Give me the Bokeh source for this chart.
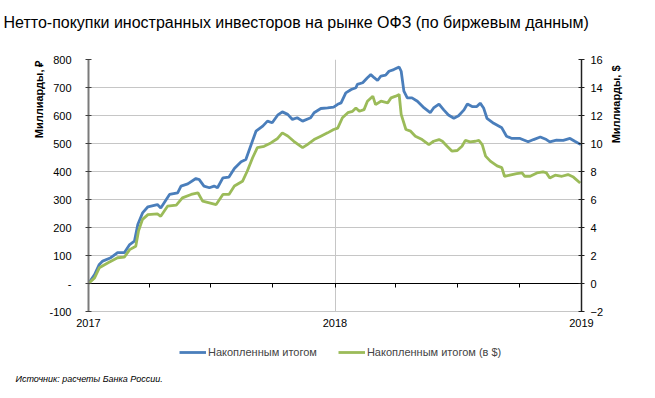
import pandas as pd
from math import pi
from bokeh.plotting import figure
from bokeh.layouts import column, row
from bokeh.models import (Range1d, LinearAxis, FixedTicker, DatetimeTickFormatter, Label,
                          CustomJSTickFormatter, Legend, LegendItem, ColumnDataSource,
                          CustomLabelingPolicy)
from bokeh.embed import file_html
from bokeh.resources import INLINE

TITLE = "Нетто-покупки иностранных инвесторов на рынке ОФЗ (по биржевым данным)"
SOURCE = "Источник: расчеты Банка России."
LEFT_LABEL = "Миллиарды, ₽"
RIGHT_LABEL = "Миллиарды, $"
SERIES_RUB = "Накопленным итогом"
SERIES_USD = "Накопленным итогом (в $)"

x_ticks = ["2017-01-01", "2018-01-01", "2019-01-01"]
quarter_ticks = ["2017-01-01", "2017-04-01", "2017-07-01", "2017-10-01", "2018-01-01",
                 "2018-04-01", "2018-07-01", "2018-10-01", "2019-01-01"]
rub_ticks = [-100, 0, 100, 200, 300, 400, 500, 600, 700, 800]
usd_ticks = [-2, 0, 2, 4, 6, 8, 10, 12, 14, 16]

rub_dates = ["2017-01-01", "2017-01-10", "2017-01-17", "2017-01-22", "2017-02-03", "2017-02-13",
             "2017-02-23", "2017-03-03", "2017-03-10", "2017-03-15", "2017-03-22", "2017-03-30",
             "2017-04-13", "2017-04-18", "2017-05-01", "2017-05-13", "2017-05-18", "2017-05-28",
             "2017-06-09", "2017-06-14", "2017-06-21", "2017-06-29", "2017-07-06", "2017-07-11",
             "2017-07-19", "2017-07-28", "2017-08-05", "2017-08-15", "2017-08-22", "2017-08-29",
             "2017-09-06", "2017-09-16", "2017-09-23", "2017-09-30", "2017-10-08", "2017-10-15",
             "2017-10-23", "2017-10-30", "2017-11-06", "2017-11-14", "2017-11-26", "2017-12-01",
             "2017-12-11", "2017-12-21", "2017-12-30", "2018-01-05", "2018-01-10", "2018-01-17",
             "2018-01-25", "2018-02-01", "2018-02-03", "2018-02-11", "2018-02-18", "2018-02-23",
             "2018-02-28", "2018-03-05", "2018-03-10", "2018-03-17", "2018-03-22", "2018-03-29",
             "2018-04-06", "2018-04-09", "2018-04-13", "2018-04-18", "2018-04-25", "2018-05-03",
             "2018-05-13", "2018-05-22", "2018-05-27", "2018-06-04", "2018-06-11", "2018-06-18",
             "2018-06-26", "2018-07-03", "2018-07-11", "2018-07-16", "2018-07-23", "2018-07-30",
             "2018-08-04", "2018-08-09", "2018-08-14", "2018-08-24", "2018-09-05", "2018-09-12",
             "2018-09-20", "2018-10-02", "2018-10-14", "2018-10-22", "2018-11-01", "2018-11-10",
             "2018-11-15", "2018-11-25", "2018-12-05", "2018-12-15", "2018-12-22", "2018-12-31"]
rub_values = [0, 32, 68, 80, 92, 110,
              110, 139, 151, 211, 252, 274,
              282, 270, 318, 324, 348, 356,
              375, 371, 348, 342, 348, 342,
              377, 380, 411, 435, 443, 490,
              544, 562, 580, 574, 601, 613,
              604, 586, 592, 580, 592, 610,
              625, 627, 630, 640, 645, 681,
              693, 699, 711, 717, 735, 746,
              735, 725, 741, 744, 758, 764,
              773, 758, 687, 663, 663, 651,
              627, 610, 627, 641, 620, 602,
              590, 599, 620, 641, 632, 632,
              644, 627, 590, 572, 556, 526,
              518, 518, 506, 514, 523, 514,
              506, 512, 511, 518, 508, 496]

usd_dates = ["2017-01-01", "2017-01-10", "2017-01-17", "2017-01-30", "2017-02-13", "2017-02-23",
             "2017-03-03", "2017-03-12", "2017-03-16", "2017-03-22", "2017-03-30", "2017-04-13",
             "2017-04-18", "2017-04-28", "2017-05-11", "2017-05-20", "2017-06-02", "2017-06-12",
             "2017-06-19", "2017-06-29", "2017-07-09", "2017-07-19", "2017-07-28", "2017-08-05",
             "2017-08-17", "2017-08-24", "2017-09-01", "2017-09-08", "2017-09-18", "2017-09-28",
             "2017-10-08", "2017-10-15", "2017-10-23", "2017-11-01", "2017-11-14", "2017-11-21",
             "2017-12-01", "2017-12-11", "2017-12-21", "2017-12-30", "2018-01-05", "2018-01-12",
             "2018-01-20", "2018-01-27", "2018-02-01", "2018-02-06", "2018-02-13", "2018-02-18",
             "2018-02-26", "2018-03-02", "2018-03-10", "2018-03-20", "2018-03-25", "2018-04-01",
             "2018-04-06", "2018-04-09", "2018-04-16", "2018-04-23", "2018-04-30", "2018-05-10",
             "2018-05-20", "2018-05-27", "2018-06-04", "2018-06-09", "2018-06-16", "2018-06-23",
             "2018-07-01", "2018-07-08", "2018-07-13", "2018-07-20", "2018-07-28", "2018-08-02",
             "2018-08-07", "2018-08-12", "2018-08-19", "2018-08-29", "2018-09-05", "2018-09-09",
             "2018-09-17", "2018-09-27", "2018-10-05", "2018-10-09", "2018-10-17", "2018-10-27",
             "2018-11-05", "2018-11-10", "2018-11-15", "2018-11-23", "2018-12-03", "2018-12-12",
             "2018-12-20", "2018-12-30"]
usd_values = [0.00, 0.40, 1.12, 1.48, 1.84, 1.88,
              2.42, 2.66, 3.74, 4.58, 4.92, 4.98,
              4.80, 5.52, 5.60, 6.12, 6.36, 6.48,
              5.88, 5.76, 5.64, 6.36, 6.36, 6.96,
              7.30, 8.02, 8.98, 9.70, 9.80, 10.04,
              10.36, 10.76, 10.54, 10.16, 9.70, 9.92,
              10.28, 10.52, 10.76, 11.00, 11.10, 11.84,
              12.20, 12.30, 12.54, 12.30, 12.42, 13.02,
              13.38, 12.78, 13.02, 12.90, 13.26, 13.38,
              13.50, 12.08, 11.00, 10.88, 10.52, 10.28,
              9.92, 10.16, 10.28, 10.16, 9.80, 9.46,
              9.50, 9.80, 10.22, 10.12, 10.16, 10.22,
              9.92, 9.10, 8.74, 8.40, 8.28, 7.66,
              7.74, 7.84, 7.90, 7.66, 7.66, 7.90,
              7.98, 7.90, 7.54, 7.74, 7.66, 7.78,
              7.60, 7.18]

BLUE = "#4a7ebb"
GREEN = "#9bbb59"
FONT = "Liberation Sans"
W = 655
H_MAIN = 294
W_LEFT = 46
W_RIGHT = 49


def ms(dates):
    return [pd.Timestamp(d).timestamp() * 1000 for d in dates]


def no_align(f):
    try:
        f.frame_align = False
    except Exception:
        pass


def blank_fig(width, height):
    f = figure(width=width, height=height, output_backend="svg", toolbar_location=None,
               x_range=Range1d(0, 1), y_range=Range1d(0, 1),
               x_axis_location=None, y_axis_location=None,
               min_border_left=0, min_border_right=0, min_border_top=0, min_border_bottom=0)
    f.outline_line_color = None
    f.grid.visible = False
    f.background_fill_color = "white"
    f.border_fill_color = "white"
    no_align(f)
    return f


rub_src = ColumnDataSource(dict(x=pd.to_datetime(rub_dates), y=rub_values))
usd_src = ColumnDataSource(dict(x=pd.to_datetime(usd_dates), y=usd_values))

# ---- title strip ----
pt = blank_fig(W, 40)
pt.add_layout(Label(x=3, y=18, x_units="screen", y_units="screen", text=TITLE,
                    text_font=FONT, text_font_size="16px", text_color="black",
                    text_baseline="middle", text_align="left"))

# ---- axis-title strips ----
pleft = blank_fig(W_LEFT, H_MAIN)
pleft.add_layout(Label(x=38, y=H_MAIN - 20, x_units="screen", y_units="screen",
                       text=LEFT_LABEL, angle=pi / 2, text_font=FONT, text_font_size="11px",
                       text_font_style="bold", text_color="black",
                       text_baseline="middle", text_align="right"))
pright = blank_fig(W_RIGHT, H_MAIN)
pright.add_layout(Label(x=9, y=H_MAIN - 25, x_units="screen", y_units="screen",
                        text=RIGHT_LABEL, angle=pi / 2, text_font=FONT, text_font_size="11px",
                        text_font_style="bold", text_color="black",
                        text_baseline="middle", text_align="right"))

# ---- main chart ----
p = figure(width=W - W_LEFT - W_RIGHT, height=H_MAIN, x_axis_type="datetime",
           output_backend="svg", toolbar_location=None,
           x_range=Range1d(ms(x_ticks)[0], ms(x_ticks)[-1]),
           y_range=Range1d(rub_ticks[0], rub_ticks[-1]),
           min_border_left=88 - W_LEFT, min_border_right=72 - W_RIGHT,
           min_border_top=19, min_border_bottom=23)
no_align(p)
p.outline_line_color = None
p.background_fill_color = "white"
p.border_fill_color = "white"
p.extra_y_ranges = {"usd": Range1d(usd_ticks[0], usd_ticks[-1])}

p.ygrid.ticker = FixedTicker(ticks=rub_ticks)
p.ygrid.grid_line_color = "#c6c6c6"
p.ygrid.grid_line_width = 1
p.xgrid.ticker = FixedTicker(ticks=ms(x_ticks))
p.xgrid.grid_line_color = "#c6c6c6"

xa = p.xaxis[0]
xa.ticker = FixedTicker(ticks=ms(x_ticks))
xa.formatter = DatetimeTickFormatter(years="%Y", months="%Y", days="%Y", hours="%Y",
                                     minutes="%Y", seconds="%Y", milliseconds="%Y")
xa.major_tick_in = 0
xa.major_tick_out = 0
xa.minor_tick_in = 0
xa.minor_tick_out = 0
xa.axis_line_color = "#c6c6c6"
xa.major_label_standoff = 7
xa.major_label_text_font = FONT
xa.major_label_text_font_size = "11px"
xa.major_label_text_color = "black"

# zero line with quarter ticks (no labels)
za = LinearAxis(fixed_location=0, ticker=FixedTicker(ticks=ms(quarter_ticks)))
za.major_label_text_font_size = "0px"
za.major_label_policy = CustomLabelingPolicy(code="return []")
za.major_tick_in = 4
za.major_tick_out = 0
za.minor_tick_in = 0
za.minor_tick_out = 0
za.axis_line_color = "black"
za.major_tick_line_color = "black"
za.axis_line_width = 1.2
p.add_layout(za, "above")

ya = p.yaxis[0]
ya.ticker = FixedTicker(ticks=rub_ticks)
ya.formatter = CustomJSTickFormatter(code="return tick == 0 ? '-' : tick.toString();")
ya.minor_tick_in = 0
ya.minor_tick_out = 0
ya.major_tick_in = 3
ya.major_tick_out = 3
ya.axis_line_color = "#7a7a7a"
ya.axis_line_width = 2
ya.major_tick_line_color = "#404040"
ya.major_label_standoff = 14
ya.major_label_text_font = FONT
ya.major_label_text_font_size = "11px"
ya.major_label_text_color = "black"

ra = LinearAxis(y_range_name="usd", ticker=FixedTicker(ticks=usd_ticks))
ra.minor_tick_in = 0
ra.minor_tick_out = 0
ra.major_tick_in = 3
ra.major_tick_out = 3
ra.axis_line_color = "#202020"
ra.axis_line_width = 1.5
ra.major_tick_line_color = "#202020"
ra.major_label_standoff = 6
ra.major_label_text_font = FONT
ra.major_label_text_font_size = "11px"
ra.major_label_text_color = "black"
p.add_layout(ra, "right")

p.line("x", "y", source=rub_src, line_color=BLUE, line_width=2.8)
p.line("x", "y", source=usd_src, line_color=GREEN, line_width=2.8, y_range_name="usd")

# ---- legend + source strip ----
pl = blank_fig(W, 64)
l1 = pl.line("x", "y", source=rub_src, line_color=BLUE, line_width=2.8)
l2 = pl.line("x", "y", source=usd_src, line_color=GREEN, line_width=2.8)
legend = Legend(items=[LegendItem(label=SERIES_RUB, renderers=[l1]),
                       LegendItem(label=SERIES_USD, renderers=[l2])],
                orientation="horizontal", location=(179, 40),
                border_line_color=None, background_fill_alpha=0,
                label_text_font=FONT, label_text_font_size="11px",
                glyph_width=27, glyph_height=12, label_standoff=2, spacing=21,
                padding=0, margin=0)
pl.add_layout(legend, "center")
pl.add_layout(Label(x=15, y=20, x_units="screen", y_units="screen", text=SOURCE,
                    text_font=FONT, text_font_size="9px", text_font_style="italic",
                    text_color="black", text_baseline="middle", text_align="left"))

layout = column(pt, row(pleft, p, pright, spacing=0), pl, spacing=0)
open("out.html", "w").write(file_html(layout, INLINE))
